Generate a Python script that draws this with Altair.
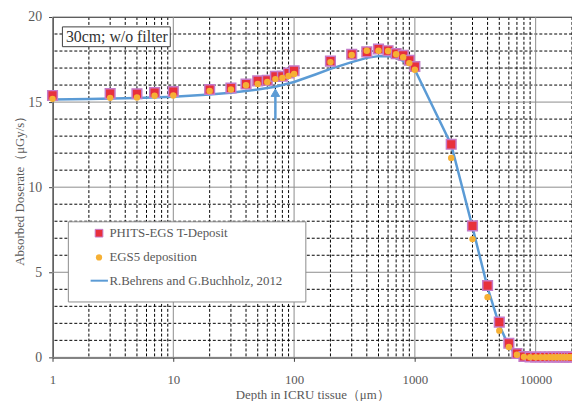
import altair as alt
import pandas as pd

# ---------------- data ----------------
depth = [1, 3, 5, 7, 10, 20, 30, 40, 50, 60, 70, 80, 90, 100,
         200, 300, 400, 500, 600, 700, 800, 900, 1000,
         2000, 3000, 4000, 5000, 6000, 7000, 8000,
         9000, 10000, 11000, 12000, 13000, 14000, 15000, 16000,
         17000, 18000, 19000, 20000]
phits = [15.39, 15.50, 15.49, 15.56, 15.62, 15.74, 15.83, 16.06, 16.25, 16.28,
         16.51, 16.52, 16.71, 16.84,
         17.41, 17.81, 17.95, 18.12, 18.02, 17.85, 17.75, 17.46, 17.09,
         12.52, 7.73, 4.22, 2.07, 0.83, 0.23, 0.05,
         0.02, 0.02, 0.02, 0.02, 0.02, 0.02, 0.02, 0.02, 0.02, 0.02, 0.02, 0.02]
egs5 = [15.19, 15.25, 15.27, 15.37, 15.39, 15.65, 15.74, 15.99, 16.07, 16.18,
        16.35, 16.42, 16.54, 16.65,
        17.35, 17.77, 18.02, 18.02, 18.00, 17.81, 17.64, 17.29, 16.90,
        11.72, 6.95, 3.54, 1.57, 0.61, 0.15, 0.03,
        0.01, 0.01, 0.01, 0.01, 0.01, 0.01, 0.01, 0.01, 0.01, 0.01, 0.01, 0.01]

behrens_depth = [1, 2, 5, 10, 20, 30, 50, 70, 100, 150, 200, 300, 400, 500,
                 600, 700, 800, 900, 1000, 2000, 3000, 4000, 5000, 6000, 7000]
behrens_val = [15.15, 15.18, 15.24, 15.32, 15.45, 15.55, 15.74, 15.90, 16.18,
               16.62, 16.95, 17.35, 17.60, 17.70, 17.70, 17.60, 17.42, 17.20,
               16.90, 12.50, 7.65, 4.10, 1.90, 0.65, 0.10]

arrow_x = [70]
arrow_tail = [13.97]
arrow_tip = [15.35]
arrow_head = [15.55]

legend_labels = ["PHITS-EGS T-Deposit", "EGS5 deposition",
                 "R.Behrens and G.Buchholz, 2012"]
note_text = "30cm; w/o filter"

x_major = [1, 10, 100, 1000, 10000]
x_minor = [m * 10 ** e for e in range(0, 5) for m in range(2, 10) if m * 10 ** e <= 20000]
y_major = [0, 5, 10, 15, 20]
y_minor = [v for v in range(0, 21) if v % 5 != 0]

RED = "#e8303c"
RED_EDGE = "#c47ac8"
ORANGE = "#f6b034"
BLUE = "#5b9bd5"
FONT = "Liberation Serif"
GRAY = "#595959"

pts = pd.DataFrame({"depth": depth, "phits": phits, "egs5": egs5})
line_df = pd.DataFrame({"depth": behrens_depth, "val": behrens_val})
arrow_df = pd.DataFrame({"x": arrow_x, "y": arrow_tail, "y2": arrow_tip,
                         "h": arrow_head})

xscale = alt.Scale(type="log", domain=[1, 20000], nice=False)
yscale = alt.Scale(domain=[0, 20], nice=False, zero=False)

xaxis = alt.Axis(
    values=x_major, format="d",
    title="Depth in ICRU tissue（μm）",
    grid=False, tickColor="#404040", tickSize=4,
    labelFont=FONT, labelFontSize=13, labelColor=GRAY, labelPadding=12,
    titleFont=FONT, titleFontSize=13, titleColor=GRAY, titleFontWeight="normal",
    titlePadding=3, domainColor="#303030", labelFlush=False, labelOverlap=False,
)
yaxis = alt.Axis(
    values=y_major,
    title="Absorbed Doserate（μGy/s）",
    grid=False, tickColor="#404040", tickSize=4,
    labelFont=FONT, labelFontSize=14, labelColor=GRAY, labelPadding=7,
    titleFont=FONT, titleFontSize=13, titleColor=GRAY, titleFontWeight="normal",
    titlePadding=1, domainColor="#303030", labelOverlap=False,
)


def X(field):
    return alt.X(field, type="quantitative", scale=xscale, axis=xaxis)


def Y(field):
    return alt.Y(field, type="quantitative", scale=yscale, axis=yaxis)


# grids
xminor_df = pd.DataFrame({"v": x_minor})
xmajor_df = pd.DataFrame({"v": x_major})
yminor_df = pd.DataFrame({"v": y_minor})
ymajor_df = pd.DataFrame({"v": y_major})

gx_minor = alt.Chart(xminor_df).mark_rule(color="#000000", strokeWidth=1,
                                          strokeDash=[3, 2]).encode(x=X("v"))
gy_minor = alt.Chart(yminor_df).mark_rule(color="#000000", strokeWidth=1,
                                          strokeDash=[3, 2]).encode(y=Y("v"))
gx_major = alt.Chart(xmajor_df).mark_rule(color="#8c8c8c", strokeWidth=1).encode(x=X("v"))
gy_major = alt.Chart(ymajor_df).mark_rule(color="#8c8c8c", strokeWidth=1).encode(y=Y("v"))

line = alt.Chart(line_df).mark_line(color=BLUE, strokeWidth=2.5).encode(
    x=X("depth"), y=Y("val"))

red = alt.Chart(pts).mark_square(size=95, color=RED, opacity=1, stroke=RED_EDGE,
                                 strokeWidth=1.5).encode(x=X("depth"), y=Y("phits"))
orange = alt.Chart(pts).mark_circle(size=42, color=ORANGE, opacity=1).encode(
    x=X("depth"), y=Y("egs5"))

arrow_shaft = alt.Chart(arrow_df).mark_rule(color=BLUE, strokeWidth=2.5).encode(
    x=X("x"), y=Y("y"), y2="y2:Q")
arrow_head_mk = alt.Chart(arrow_df).mark_point(
    shape="triangle-up", filled=True, fill=BLUE, stroke=BLUE, strokeWidth=1,
    opacity=1, size=75).encode(x=X("x"), y=Y("h"))

one = pd.DataFrame({"a": [0]})
# note box top-left
note_box = alt.Chart(one).mark_rect(fill="white", stroke="#404040", strokeWidth=1).encode(
    x=alt.value(10), x2=alt.value(119), y=alt.value(10), y2=alt.value(30))
note = alt.Chart(one).mark_text(font=FONT, fontSize=16, color="#333333", align="left",
                                baseline="middle").encode(
    x=alt.value(13.5), y=alt.value(20.5), text=alt.value(note_text))

# legend
leg_box = alt.Chart(one).mark_rect(fill="white", stroke="#8c8c8c", strokeWidth=1).encode(
    x=alt.value(16), x2=alt.value(256), y=alt.value(207), y2=alt.value(288))
leg_sq = alt.Chart(one).mark_square(size=60, color=RED, opacity=1, stroke=RED_EDGE,
                                    strokeWidth=1).encode(x=alt.value(47), y=alt.value(218.5))
leg_ci = alt.Chart(one).mark_circle(size=40, color=ORANGE, opacity=1).encode(
    x=alt.value(47), y=alt.value(243))
leg_ln = alt.Chart(one).mark_rule(color=BLUE, strokeWidth=2).encode(
    x=alt.value(38.5), x2=alt.value(56), y=alt.value(266.5))
leg_txt = [
    alt.Chart(one).mark_text(font=FONT, fontSize=13, color=GRAY, align="left",
                             baseline="middle").encode(
        x=alt.value(57.5), y=alt.value(yy), text=alt.value(lbl))
    for lbl, yy in zip(legend_labels, [218.5, 243, 266.5])
]

chart = alt.layer(
    gx_minor, gy_minor, gx_major, gy_major,
    line, red, orange, arrow_shaft, arrow_head_mk,
    note_box, note, leg_box, leg_sq, leg_ci, leg_ln, *leg_txt
).properties(
    width=525, height=344,
    autosize=alt.AutoSizeParams(type="none"),
    padding={"left": 45, "top": 7, "right": 0, "bottom": 42},
).configure_view(stroke="#303030", strokeWidth=1)

chart.save("out.html", embed_options={"renderer": "svg", "actions": False})
